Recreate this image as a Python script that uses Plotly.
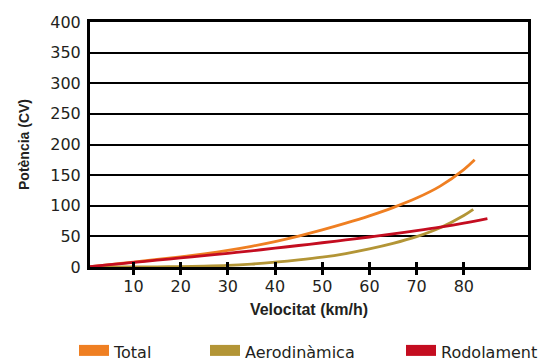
import plotly.graph_objects as go

# ---- data ----
speed_total = [0, 5, 10, 15, 20, 25, 30, 35, 40, 45, 50, 55, 60, 65, 70, 75, 80, 82.3]
power_total = [0, 4, 8.1, 12.3, 16.7, 21.6, 27.2, 33.8, 41.5, 50.5, 60.5, 71.5, 83.5, 97, 112.5, 132, 159, 175]

speed_aero = [0, 5, 10, 15, 20, 25, 30, 35, 40, 45, 50, 55, 60, 65, 70, 75, 80, 82]
power_aero = [0, 0, 0.1, 0.3, 0.7, 1.4, 2.6, 4.8, 7.8, 11.5, 16, 22, 29.5, 38.5, 49.5, 64, 84, 94]

speed_roll = [0, 5, 10, 15, 20, 25, 30, 35, 40, 45, 50, 55, 60, 65, 70, 75, 80, 85]
power_roll = [0, 3.7, 7.4, 11.1, 14.8, 18.5, 22.3, 26.4, 30.7, 35.1, 39.6, 44.2, 49, 54, 59.3, 65, 71.5, 79]

series_names = ["Total", "Aerodinàmica", "Rodolament"]
x_tick_vals = [10, 20, 30, 40, 50, 60, 70, 80]
y_tick_vals = [0, 50, 100, 150, 200, 250, 300, 350, 400]

# ---- styles ----
colors = ["#EF7F22", "#B39536", "#C40D20"]
TXT = "#231F20"
TICK_FONT = dict(family="DejaVu Sans, Verdana, sans-serif", size=16, color=TXT)
TITLE_FAMILY = "Liberation Sans, Arial, sans-serif"

fig = go.Figure()

series = [(speed_total, power_total), (speed_aero, power_aero), (speed_roll, power_roll)]
xrefs = ["x", "x", "x2"]
for (xs, ys), name, col, xr in zip(series, series_names, colors, xrefs):
    fig.add_trace(go.Scatter(
        x=xs, y=ys, mode="lines", name=name, showlegend=False,
        line=dict(color=col, width=2.8, shape="spline", smoothing=1.0),
        xaxis=xr, yaxis="y", hoverinfo="skip",
    ))

# legend proxies (draw nothing in the plot area)
legend_ids = ["legend", "legend2", "legend3"]
for name, col, lg in zip(series_names, colors, legend_ids):
    fig.add_trace(go.Scatter(
        x=[None], y=[None], mode="lines", name=name, showlegend=True,
        fill="toself", fillcolor=col,
        line=dict(color=col, width=12), legend=lg,
    ))

OFF = 8                      # page body margin of the browser
W, H = 546 - OFF, 361 - OFF  # figure size
L, R, T, B = 90 - OFF, 18, 22 - OFF, H - (267 - OFF)
pw = W - L - R
ph = H - T - B

def px_to_paper_x(px):
    return (px - OFF - L) / pw

def px_to_paper_y(py):
    return (H - B - (py - OFF)) / ph

legend_common = dict(
    orientation="h", xanchor="left", yanchor="middle",
    font=dict(family="DejaVu Sans, Verdana, sans-serif", size=16, color=TXT),
    bgcolor="rgba(0,0,0,0)", borderwidth=0, itemclick=False, itemdoubleclick=False,
)

fig.update_layout(
    width=W, height=H,
    template="none",
    paper_bgcolor="white", plot_bgcolor="white",
    margin=dict(l=L, r=R, t=T, b=B, pad=0, autoexpand=False),
    font=dict(family="DejaVu Sans, sans-serif", color=TXT),
    xaxis=dict(
        range=[0.8, 93.6], tickvals=x_tick_vals, ticktext=[str(v) for v in x_tick_vals],
        showgrid=False, zeroline=False,
        showline=True, linewidth=3, linecolor="black", mirror=True,
        ticks="outside", ticklen=5, tickwidth=2.5, tickcolor="black",
        tickfont=TICK_FONT, ticklabelstandoff=-2,
        title=dict(text="<b>Velocitat (km/h)</b>", font=dict(family=TITLE_FAMILY, size=16, color=TXT), standoff=9),
    ),
    xaxis2=dict(
        matches="x", overlaying="x", anchor="y", tickvals=x_tick_vals,
        showticklabels=False, showgrid=False, zeroline=False, showline=False,
        ticks="inside", ticklen=5, tickwidth=2.5, tickcolor="black",
    ),
    yaxis=dict(
        range=[0, 400], tickvals=y_tick_vals, ticktext=[str(v) for v in y_tick_vals],
        showgrid=True, gridcolor="black", gridwidth=1.5, zeroline=False,
        showline=True, linewidth=3, linecolor="black", mirror=True,
        ticks="", tickfont=TICK_FONT, ticklabelstandoff=3,
        title=dict(text="<b>Potència (CV)</b>", font=dict(family=TITLE_FAMILY, size=14, color=TXT), standoff=18),
    ),
    legend=dict(x=px_to_paper_x(74), y=px_to_paper_y(352), **legend_common),
    legend2=dict(x=px_to_paper_x(205), y=px_to_paper_y(352), **legend_common),
    legend3=dict(x=px_to_paper_x(401), y=px_to_paper_y(352), **legend_common),
)

fig.write_html("out.html")
